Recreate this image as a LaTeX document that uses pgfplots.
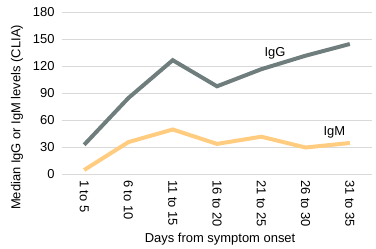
\documentclass[border=0pt]{standalone}
\usepackage{pgfplots}
\pgfplotsset{compat=1.18}
\usepackage{fontspec}
\setmainfont{Liberation Sans}
\definecolor{iggc}{HTML}{6F7D7D}
\definecolor{igmc}{HTML}{FFCC80}
\definecolor{gridc}{HTML}{D9D9D9}
\begin{document}
\begin{tikzpicture}[x=1bp,y=1bp]
\useasboundingbox (-62bp,-74.5bp) rectangle (314bp,174.5bp);
\begin{axis}[
  at={(0,0)}, anchor=south west,
  scale only axis, width=310bp, height=162bp,
  xmin=-0.5, xmax=6.5, ymin=0, ymax=180,
  xtick={0,...,6},
  xticklabels={1 to 5,6 to 10,11 to 15,16 to 20,21 to 25,26 to 30,31 to 35},
  xticklabel style={yshift=-2bp, rotate=-90, anchor=west, font=\fontsize{13}{15}\selectfont},
  ytick={0,30,...,180},
  yticklabel style={font=\fontsize{13}{15}\selectfont, xshift=-4bp},
  /pgf/number format/assume math mode=true,
  ymajorgrids, grid style={gridc, line width=0.8pt},
  axis line style={draw=none},
  major tick length=0pt,
  xlabel={Days from symptom onset},
  ylabel={Median IgG or IgM levels (CLIA)},
  every axis x label/.style={at={(axis description cs:0.51,0)}, yshift=-65bp, anchor=center, font=\fontsize{13}{15}\selectfont},
  every axis y label/.style={at={(axis description cs:0,0.352)}, xshift=-45bp, rotate=90, anchor=center, font=\fontsize{13}{15}\selectfont},
  clip=false,
]
\addplot[draw=gridc, line width=1pt] coordinates {(-0.5,0) (6.5,0)};
\addplot[igmc, line width=4pt, line join=miter] coordinates {(0,5) (1,36) (2,50) (3,34) (4,42) (5,30) (6,35)};
\addplot[iggc, line width=4pt, line join=miter] coordinates {(0,33) (1,85) (2,127) (3,98) (4,117) (5,132) (6,145)};
\node[font=\fontsize{13}{15}\selectfont] at (axis cs:4.31,135) {IgG};
\node[font=\fontsize{13}{15}\selectfont] at (axis cs:5.65,47) {IgM};
\end{axis}
\end{tikzpicture}
\end{document}
